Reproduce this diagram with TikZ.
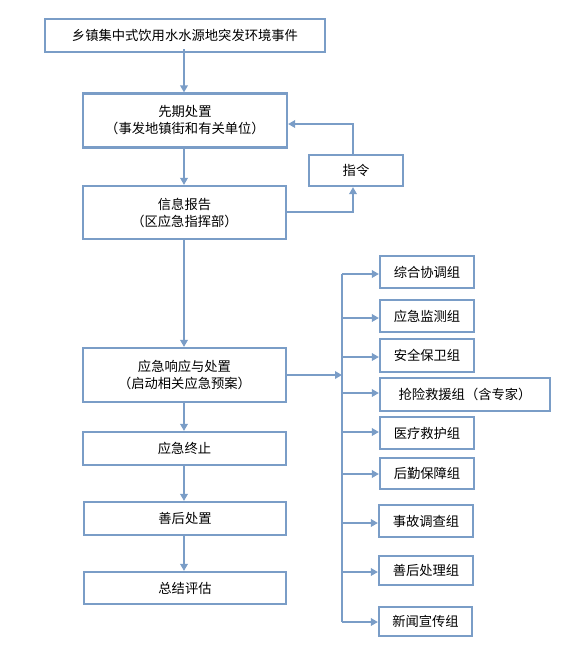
\documentclass[tikz,border=0pt]{standalone}
\usepackage{fontspec}
\setmainfont{Noto Sans CJK SC}
\usetikzlibrary{arrows.meta}
\definecolor{lineblue}{RGB}{122,157,199}
\tikzset{
  box/.style={draw=lineblue, line width=2.2pt, fill=white, inner sep=0pt, align=center,
    font=\fontsize{13.3}{17}\selectfont, text=black},
  arr/.style={draw=lineblue, line width=1.8pt, -{Triangle[length=7pt,width=7.5pt]}},
  ln/.style={draw=lineblue, line width=1.8pt}
}
\begin{document}
\begin{tikzpicture}[x=1pt,y=-1pt]
\useasboundingbox (0,0) rectangle (588,657);
% main column
\node[box, minimum width=280pt, minimum height=33pt] (b1) at (185,35.5) {乡镇集中式饮用水水源地突发环境事件};
\node[box, minimum width=204pt, minimum height=54pt] (b2) at (185,120.5) {先期处置\\（事发地镇街和有关单位）};
\node[box, minimum width=94pt, minimum height=31pt] (cmd) at (356,170.5) {指令};
\node[box, minimum width=203pt, minimum height=53pt] (b3) at (184.5,212.5) {信息报告\\（区应急指挥部）};
\node[box, minimum width=203pt, minimum height=54pt] (b4) at (184.5,375) {应急响应与处置\\（启动相关应急预案）};
\node[box, minimum width=203pt, minimum height=33pt] (b5) at (184.5,448.5) {应急终止};
\node[box, minimum width=202pt, minimum height=33pt] (b6) at (185,518.5) {善后处置};
\node[box, minimum width=202pt, minimum height=32pt] (b7) at (185,588) {总结评估};
% right column
\node[box, minimum width=94pt, minimum height=32pt] (g1) at (427,272) {综合协调组};
\node[box, minimum width=94pt, minimum height=32pt] (g2) at (427,316) {应急监测组};
\node[box, minimum width=94pt, minimum height=33pt] (g3) at (427,355.5) {安全保卫组};
\node[box, minimum width=170pt, minimum height=33pt] (g4) at (465,394.5) {抢险救援组（含专家）};
\node[box, minimum width=94pt, minimum height=32pt] (g5) at (427,433) {医疗救护组};
\node[box, minimum width=94pt, minimum height=31pt] (g6) at (427,473.5) {后勤保障组};
\node[box, minimum width=94pt, minimum height=32pt] (g7) at (426,521) {事故调查组};
\node[box, minimum width=94pt, minimum height=29pt] (g8) at (426,570.5) {善后处理组};
\node[box, minimum width=93pt, minimum height=29pt] (g9) at (425.5,621.5) {新闻宣传组};
% main flow
\draw[arr] ([yshift=4pt]b1.south -| 184,0) -- (b2.north -| 184,0);
\draw[arr] (b2.south -| 184,0) -- (b3.north -| 184,0);
\draw[arr] (b3.south -| 184,0) -- (b4.north -| 184,0);
\draw[arr] (b4.south -| 184,0) -- (b5.north -| 184,0);
\draw[arr] (b5.south -| 184,0) -- (b6.north -| 184,0);
\draw[arr] (b6.south -| 184,0) -- (b7.north -| 184,0);
% feedback loop
\coordinate (c1) at (353,212);
\coordinate (c2) at (353,124);
\draw[arr] (b3.east |- c1) -- (c1) -- (cmd.south -| c1);
\draw[arr] (cmd.north -| c2) -- (c2) -- (b2.east |- c2);
% branch
\coordinate (t) at (342,375);
\draw[arr] (b4.east |- t) -- (t);
\draw[ln] (t |- 0,274) -- (t |- 0,622);
\draw[arr] (t |- 0,274) -- (g1.west |- 0,274);
\draw[arr] (t |- 0,318) -- (g2.west |- 0,318);
\draw[arr] (t |- 0,357) -- (g3.west |- 0,357);
\draw[arr] (t |- 0,393) -- (g4.west |- 0,393);
\draw[arr] (t |- 0,432) -- (g5.west |- 0,432);
\draw[arr] (t |- 0,474) -- (g6.west |- 0,474);
\draw[arr] (t |- 0,523) -- (g7.west |- 0,523);
\draw[arr] (t |- 0,572) -- (g8.west |- 0,572);
\draw[arr] (t |- 0,622) -- (g9.west |- 0,622);
\end{tikzpicture}
\end{document}
